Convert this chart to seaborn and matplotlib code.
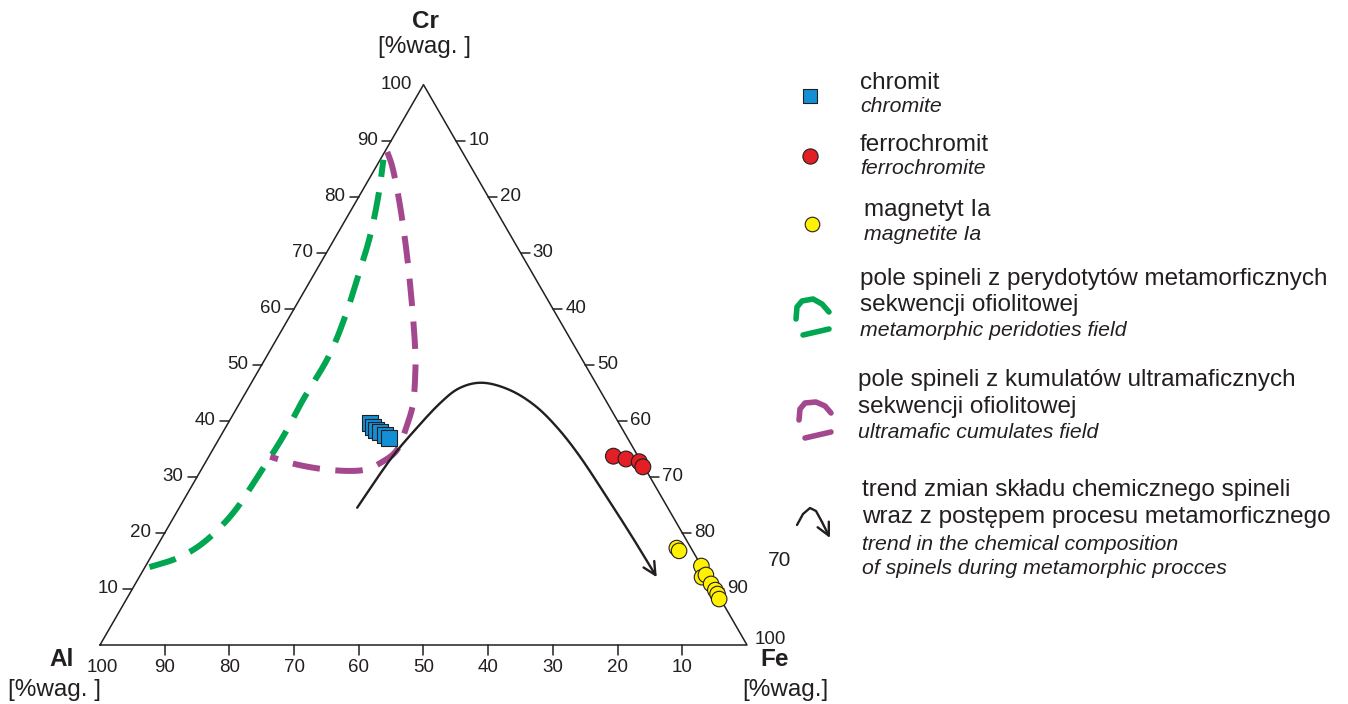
import numpy as np
import pandas as pd
import matplotlib
matplotlib.use("Agg")
import matplotlib.pyplot as plt
import seaborn as sns

# --- dane (Cr, Fe w %wag.; Al = 100 - Cr - Fe) ---
chromite_cr = [39.6, 38.9, 38.4, 38.0, 37.5, 36.9]
chromite_fe = [21.9, 22.7, 23.5, 24.3, 25.3, 26.2]

ferrochromite_cr = [33.7, 33.2, 32.7, 31.8]
ferrochromite_fe = [62.5, 64.7, 67.0, 68.0]

magnetite_cr = [17.3, 16.8, 14.1, 12.1, 12.5, 10.9, 9.8, 9.1, 8.2]
magnetite_fe = [80.5, 81.1, 85.9, 87.0, 87.4, 89.0, 90.2, 90.9, 91.6]

# pole spineli z perydotytow metamorficznych
peridotite_cr = [86.6, 80.0, 72.8, 65.7, 58.5, 51.4, 43.7, 37.1, 29.4, 23.6, 18.7, 15.7, 13.9]
peridotite_fe = [0.5, 3.0, 5.3, 7.0, 8.6, 9.6, 9.5, 9.7, 9.3, 8.8, 7.1, 4.5, 0.7]

# pole spineli z kumulatow ultramaficznych
cumulate_cr = [88.0, 84.8, 78.2, 70.0, 61.0, 53.2, 49.1, 43.2, 38.9, 34.8, 32.5, 31.2, 31.2, 32.1, 33.6]
cumulate_fe = [0.4, 2.9, 7.3, 12.4, 17.7, 22.1, 24.2, 26.8, 27.9, 28.5, 27.1, 25.0, 20.4, 14.8, 9.5]

# trend zmian skladu
trend_cr = [24.5, 33.0, 38.4, 43.2, 45.9, 46.8, 45.5, 42.7, 38.7, 33.6, 26.8, 19.3, 12.1]
trend_fe = [27.5, 28.3, 29.5, 31.0, 32.7, 35.8, 40.6, 45.9, 51.4, 57.4, 64.7, 72.6, 80.0]

tick_values = [10, 20, 30, 40, 50, 60, 70, 80, 90]

BLUE = "#138fd6"
RED = "#e31e25"
YELLOW = "#fff100"
GREEN = "#00a650"
PURPLE = "#a3488f"
INK = "#231f20"

SQ3 = np.sqrt(3) / 2


def to_xy(cr, fe):
    cr = np.asarray(cr, float)
    fe = np.asarray(fe, float)
    return fe + cr / 2, cr * SQ3


def smooth(xs, ys, n=14):
    # Catmull-Rom, tylko do rysowania gladkiej linii
    p = np.column_stack([xs, ys])
    p = np.vstack([p[0], p, p[-1]])
    out = []
    t = np.linspace(0, 1, n, endpoint=False)[:, None]
    for i in range(1, len(p) - 2):
        p0, p1, p2, p3 = p[i - 1], p[i], p[i + 1], p[i + 2]
        out.append(0.5 * (2 * p1 + (-p0 + p2) * t + (2 * p0 - 5 * p1 + 4 * p2 - p3) * t ** 2
                          + (-p0 + 3 * p1 - 3 * p2 + p3) * t ** 3))
    out.append(p[-2][None])
    s = np.vstack(out)
    return s[:, 0], s[:, 1]


sns.set_style("white")
plt.rcParams["font.family"] = ["Liberation Sans", "DejaVu Sans"]

fig = plt.figure(figsize=(13.48, 7.04), dpi=100)
ax = fig.add_axes([0, 0, 1, 1])
XLIM = (-100 / 6.47, 1248 / 6.47)
YLIM = (-59 / 6.47, 645 / 6.47)

# trojkat
ax.plot([0, 100, 50, 0], [0, 0, 100 * SQ3, 0], color=INK, lw=1.1, zorder=2)

tick_fs = 13.5
for v in tick_values:
    # lewa os: Cr
    x, y = v / 2, v * SQ3
    ax.plot([x - 1.4, x], [y, y], color=INK, lw=1.1)
    ax.text(x - 2.1, y, str(v), ha="right", va="center", fontsize=tick_fs, color=INK)
    # prawa os: Fe
    x, y = 50 + v / 2, (100 - v) * SQ3
    ax.plot([x, x + 1.4], [y, y], color=INK, lw=1.1)
    ax.text(x + 1.9, y, str(v), ha="left", va="center", fontsize=tick_fs, color=INK)
    # dolna os: Al
    x = 100 - v
    ax.plot([x, x], [0, -1.5], color=INK, lw=1.1)
    ax.text(x, -3.5, str(v), ha="center", va="center", fontsize=tick_fs, color=INK)
ax.text(0.4, -3.5, "100", ha="center", va="center", fontsize=tick_fs, color=INK)
ax.text(101.2, 0.8, "100", ha="left", va="center", fontsize=tick_fs, color=INK)
ax.text(48.2, 86.6, "100", ha="right", va="center", fontsize=tick_fs, color=INK)

# pola
gx, gy = smooth(*to_xy(peridotite_cr, peridotite_fe))
ax.plot(gx[::-1], gy[::-1], color=GREEN, lw=4.3, dashes=(4.6, 2.6), zorder=3)
px, py = smooth(*to_xy(cumulate_cr, cumulate_fe))
ax.plot(px, py, color=PURPLE, lw=4.3, dashes=(4.6, 2.6), zorder=3)

# trend
tx, ty = smooth(*to_xy(trend_cr, trend_fe))
ax.plot(tx[:-3], ty[:-3], color=INK, lw=1.7, zorder=3)
ax.annotate("", xy=(tx[-1], ty[-1]), xytext=(tx[-4], ty[-4]),
            arrowprops=dict(arrowstyle="->,head_length=0.9,head_width=0.45", lw=1.7,
                            color=INK, shrinkA=0, shrinkB=0, mutation_scale=10), zorder=3)

# punkty
frames = []
for name, cr, fe in [("chromit", chromite_cr, chromite_fe),
                     ("ferrochromit", ferrochromite_cr, ferrochromite_fe),
                     ("magnetyt", magnetite_cr, magnetite_fe)]:
    x, y = to_xy(cr, fe)
    frames.append(pd.DataFrame({"x": x, "y": y, "typ": name}))
df = pd.concat(frames, ignore_index=True)

sns.scatterplot(data=df, x="x", y="y", hue="typ", style="typ", size="typ",
                sizes={"chromit": 130, "ferrochromit": 130, "magnetyt": 125},
                palette={"chromit": BLUE, "ferrochromit": RED, "magnetyt": YELLOW},
                markers={"chromit": "s", "ferrochromit": "o", "magnetyt": "o"},
                edgecolor=INK, linewidth=0.8, legend=False, ax=ax, zorder=5)
ax.set_xlim(*XLIM)
ax.set_ylim(*YLIM)
ax.axis("off")

# warstwa w pikselach: opisy i legenda
lax = fig.add_axes([0, 0, 1, 1])
lax.set_xlim(0, 1348)
lax.set_ylim(704, 0)
lax.axis("off")
lax.patch.set_alpha(0)

vfs = 17.5
lax.text(425, 22, "Cr", ha="center", va="center", fontsize=vfs, fontweight="bold", color=INK)
lax.text(425, 47, "[%wag. ]", ha="center", va="center", fontsize=vfs, color=INK)
lax.text(62, 660, "Al", ha="center", va="center", fontsize=vfs, fontweight="bold", color=INK)
lax.text(55, 690, "[%wag. ]", ha="center", va="center", fontsize=vfs, color=INK)
lax.text(775, 660, "Fe", ha="center", va="center", fontsize=vfs, fontweight="bold", color=INK)
lax.text(785, 690, "[%wag.]", ha="center", va="center", fontsize=vfs, color=INK)
lax.text(780, 560, "70", ha="center", va="center", fontsize=15, color=INK)

# legenda
lax.scatter([810], [96], marker="s", s=115, color=BLUE, edgecolor=INK, linewidth=0.8)
lax.scatter([810], [156], marker="o", s=120, color=RED, edgecolor=INK, linewidth=0.8)
lax.scatter([812], [224], marker="o", s=110, color=YELLOW, edgecolor=INK, linewidth=0.8)

lax.plot([796, 797, 802, 813, 822, 829], [319, 307, 301, 299, 304, 312], color=GREEN, lw=4)
lax.plot([803, 829], [335, 329], color=GREEN, lw=4)
lax.plot([799, 800, 805, 816, 825, 831], [420, 409, 403, 402, 406, 413], color=PURPLE, lw=4)
lax.plot([805, 831], [438, 432], color=PURPLE, lw=4)
lax.plot([797, 803, 810, 816, 822], [525, 514, 508, 511, 522], color=INK, lw=1.7)
lax.annotate("", xy=(830, 538), xytext=(822, 522),
             arrowprops=dict(arrowstyle="->,head_length=0.9,head_width=0.45", lw=1.7,
                             color=INK, shrinkA=0, shrinkB=0, mutation_scale=10))

mfs = 17.5
ifs = 15.3
legend_lines = [
    (860, 83, "chromit", False), (860, 107, "chromite", True),
    (860, 145, "ferrochromit", False), (860, 169, "ferrochromite", True),
    (864, 210, "magnetyt Ia", False), (864, 235, "magnetite Ia", True),
    (860, 279, "pole spineli z perydotytów metamorficznych", False),
    (860, 305, "sekwencji ofiolitowej", False),
    (860, 331, "metamorphic peridoties field", True),
    (858, 380, "pole spineli z kumulatów ultramaficznych", False),
    (858, 407, "sekwencji ofiolitowej", False),
    (858, 433, "ultramafic cumulates field", True),
    (862, 490, "trend zmian składu chemicznego spineli", False),
    (862, 517, "wraz z postępem procesu metamorficznego", False),
    (862, 544, "trend in the chemical composition", True),
    (862, 568, "of spinels during metamorphic procces", True),
]
for x, y, s, it in legend_lines:
    lax.text(x, y, s, ha="left", va="center", color=INK,
             fontsize=ifs if it else mfs, fontstyle="italic" if it else "normal")

fig.savefig("out.png", dpi=100)
plt.close(fig)
